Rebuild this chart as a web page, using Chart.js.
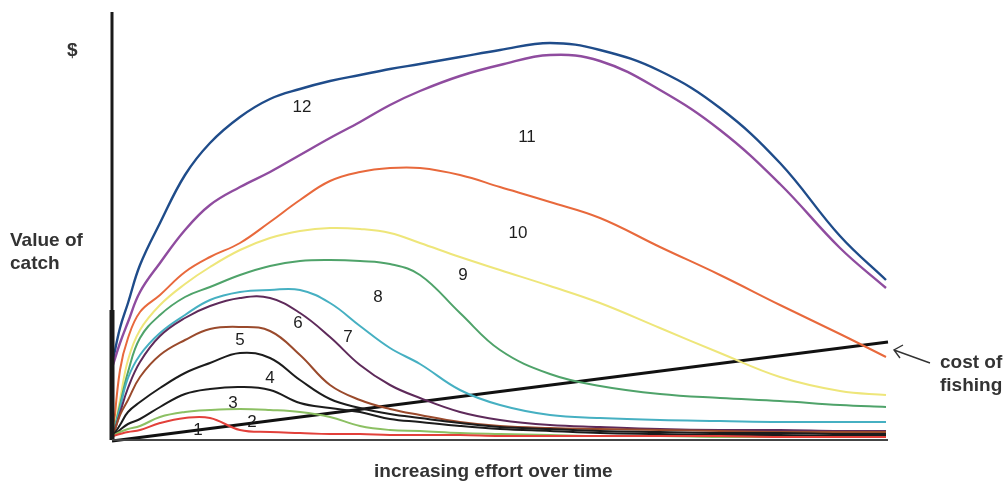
<!DOCTYPE html>
<html>
<head>
<meta charset="utf-8">
<script src="https://cdn.jsdelivr.net/npm/chart.js@4/dist/chart.umd.min.js"></script>
<style>
  html, body { margin: 0; padding: 0; background: #fff; }
  #wrap { position: relative; width: 1008px; height: 483px; font-family: "Liberation Sans", Arial, sans-serif; color: #333; }
  #wrap canvas { position: absolute; left: 0; top: 0; }
  .lbl { position: absolute; font-size: 19px; font-weight: bold; line-height: 23px; white-space: nowrap; }
</style>
</head>
<body>
<div id="wrap">
  <canvas id="chart" width="1008" height="483"></canvas>
  <div class="lbl" style="left:67px;top:38px;">$</div>
  <div class="lbl" style="left:10px;top:228px;">Value of<br>catch</div>
  <div class="lbl" style="left:374px;top:459px;">increasing effort over time</div>
  <div class="lbl" style="left:940px;top:350px;">cost of<br>fishing</div>
</div>
<script>
// effort grid (x) shared by all catch curves
const effort = [1, 8, 16, 28, 48, 73, 98, 128, 158, 188, 218, 248, 278, 308, 348, 388, 438, 488, 548, 608, 668, 728, 774];

// value of catch per curve (1 = lowest, 12 = highest)
const catch1  = [4, 6, 8, 10, 17, 22, 22, 10, 8, 7, 6, 6, 5, 5, 5, 4, 4, 4, 4, 4, 3, 3, 3];
const catch2  = [4, 8, 11, 14, 23, 28, 30, 31, 30, 28, 23, 14, 10, 9, 7, 6, 5, 4, 4, 3, 3, 3, 3];
const catch3  = [4, 10, 16, 21, 33, 46, 51, 53, 50, 37, 32, 28, 21, 18, 14, 11, 9, 7, 6, 5, 5, 4, 4];
const catch4  = [4, 15, 28, 38, 52, 67, 77, 87, 82, 60, 41, 32, 26, 22, 17, 13, 11, 9, 8, 7, 7, 6, 6];
const catch5  = [4, 25, 40, 63, 85, 100, 111, 113, 109, 85, 55, 40, 31, 25, 18, 14, 12, 11, 10, 9, 8, 8, 8];
const catch6  = [4, 27, 52, 78, 104, 122, 134, 142, 142, 127, 103, 75, 55, 42, 28, 20, 15, 13, 11, 10, 10, 9, 9];
const catch7  = [4, 32, 62, 85, 107, 125, 140, 148, 150, 150, 137, 114, 92, 76, 50, 35, 25, 22, 20, 19, 18, 18, 18];
const catch8  = [4, 35, 68, 102, 125, 143, 153, 165, 174, 179, 180, 179, 176, 165, 127, 90, 66, 54, 46, 42, 39, 35, 33];
const catch9  = [4, 40, 80, 110, 135, 156, 173, 190, 202, 209, 212, 211, 207, 197, 183, 170, 154, 137, 112, 87, 63, 49, 45];
const catch10 = [4, 70, 102, 128, 145, 168, 183, 197, 218, 240, 259, 268, 272, 272, 265, 253, 238, 222, 193, 165, 135, 106, 83];
const catch11 = [75, 97, 118, 148, 177, 210, 235, 253, 268, 285, 302, 318, 335, 349, 364, 375, 385, 379, 350, 310, 256, 192, 152];
const catch12 = [80, 112, 137, 175, 217, 265, 297, 323, 341, 351, 359, 365, 371, 376, 383, 390, 397, 390, 369, 332, 277, 204, 160];

// cost of fishing: straight line
const costEffort = [0, 776];
const costValue  = [-1, 98];

// curve number labels (effort, value)
const curveNames  = ['1', '2', '3', '4', '5', '6', '7', '8', '9', '10', '11', '12'];
const labelEffort = [86, 140, 121, 158, 128, 186, 236, 266, 351, 406, 415, 190];
const labelValue  = [10, 18, 37, 62, 100, 117, 103, 143, 165, 207, 303, 333];

const curveColors = ['#e2403a', '#8cc063', '#1c1c1c', '#1c1c1c', '#9a4a2c', '#5e2a5a',
                     '#46b0c2', '#4fa36a', '#eee67a', '#e8693c', '#8f4c9f', '#1f4c8a'];

const allCatch = [catch1, catch2, catch3, catch4, catch5, catch6, catch7, catch8, catch9, catch10, catch11, catch12];

const datasets = allCatch.map((vals, i) => ({
  label: curveNames[i],
  data: vals.map((v, j) => ({ x: effort[j], y: v })),
  borderColor: curveColors[i],
  borderWidth: i >= 10 ? 2.4 : 2,
  pointRadius: 0,
  fill: false,
  tension: 0.4,
  clip: false
}));

datasets.push({
  label: 'cost of fishing',
  data: costEffort.map((x, j) => ({ x, y: costValue[j] })),
  borderColor: '#111',
  borderWidth: 3,
  pointRadius: 0,
  fill: false,
  clip: false
});

// axes, curve numbers and the arrow
const decorPlugin = {
  id: 'decor',
  afterDatasetsDraw(chart) {
    const { ctx, chartArea: a, scales: { x, y } } = chart;
    ctx.save();
    // y axis
    ctx.strokeStyle = '#1a1a1a';
    ctx.lineWidth = 3;
    ctx.beginPath();
    ctx.moveTo(a.left, a.top);
    ctx.lineTo(a.left, a.bottom);
    ctx.stroke();
    ctx.lineWidth = 5;
    ctx.beginPath();
    ctx.moveTo(a.left, a.bottom - 130);
    ctx.lineTo(a.left, a.bottom);
    ctx.stroke();
    // x axis
    ctx.strokeStyle = '#444';
    ctx.lineWidth = 2;
    ctx.beginPath();
    ctx.moveTo(a.left, a.bottom);
    ctx.lineTo(a.right, a.bottom);
    ctx.stroke();

    // curve numbers
    ctx.fillStyle = '#1e1e1e';
    ctx.font = '17px "Liberation Sans", Arial, sans-serif';
    ctx.textAlign = 'center';
    ctx.textBaseline = 'middle';
    curveNames.forEach((n, i) => {
      ctx.fillText(n, x.getPixelForValue(labelEffort[i]), y.getPixelForValue(labelValue[i]));
    });

    // arrow pointing at cost line
    const tipX = a.right + 6, tipY = y.getPixelForValue(costValue[1]) + 8;
    ctx.strokeStyle = '#333';
    ctx.lineWidth = 1.4;
    ctx.beginPath();
    ctx.moveTo(tipX + 36, tipY + 13);
    ctx.lineTo(tipX, tipY);
    ctx.moveTo(tipX + 9, tipY - 5);
    ctx.lineTo(tipX, tipY);
    ctx.lineTo(tipX + 6, tipY + 8);
    ctx.stroke();
    ctx.restore();
  }
};

new Chart(document.getElementById('chart'), {
  type: 'line',
  data: { datasets },
  options: {
    responsive: false,
    animation: false,
    layout: { padding: { left: 112, right: 120, top: 12, bottom: 43 } },
    plugins: { legend: { display: false }, tooltip: { enabled: false } },
    scales: {
      x: { type: 'linear', min: 0, max: 776, display: false },
      y: { type: 'linear', min: 0, max: 428, display: false }
    }
  },
  plugins: [decorPlugin]
});
</script>
</body>
</html>
